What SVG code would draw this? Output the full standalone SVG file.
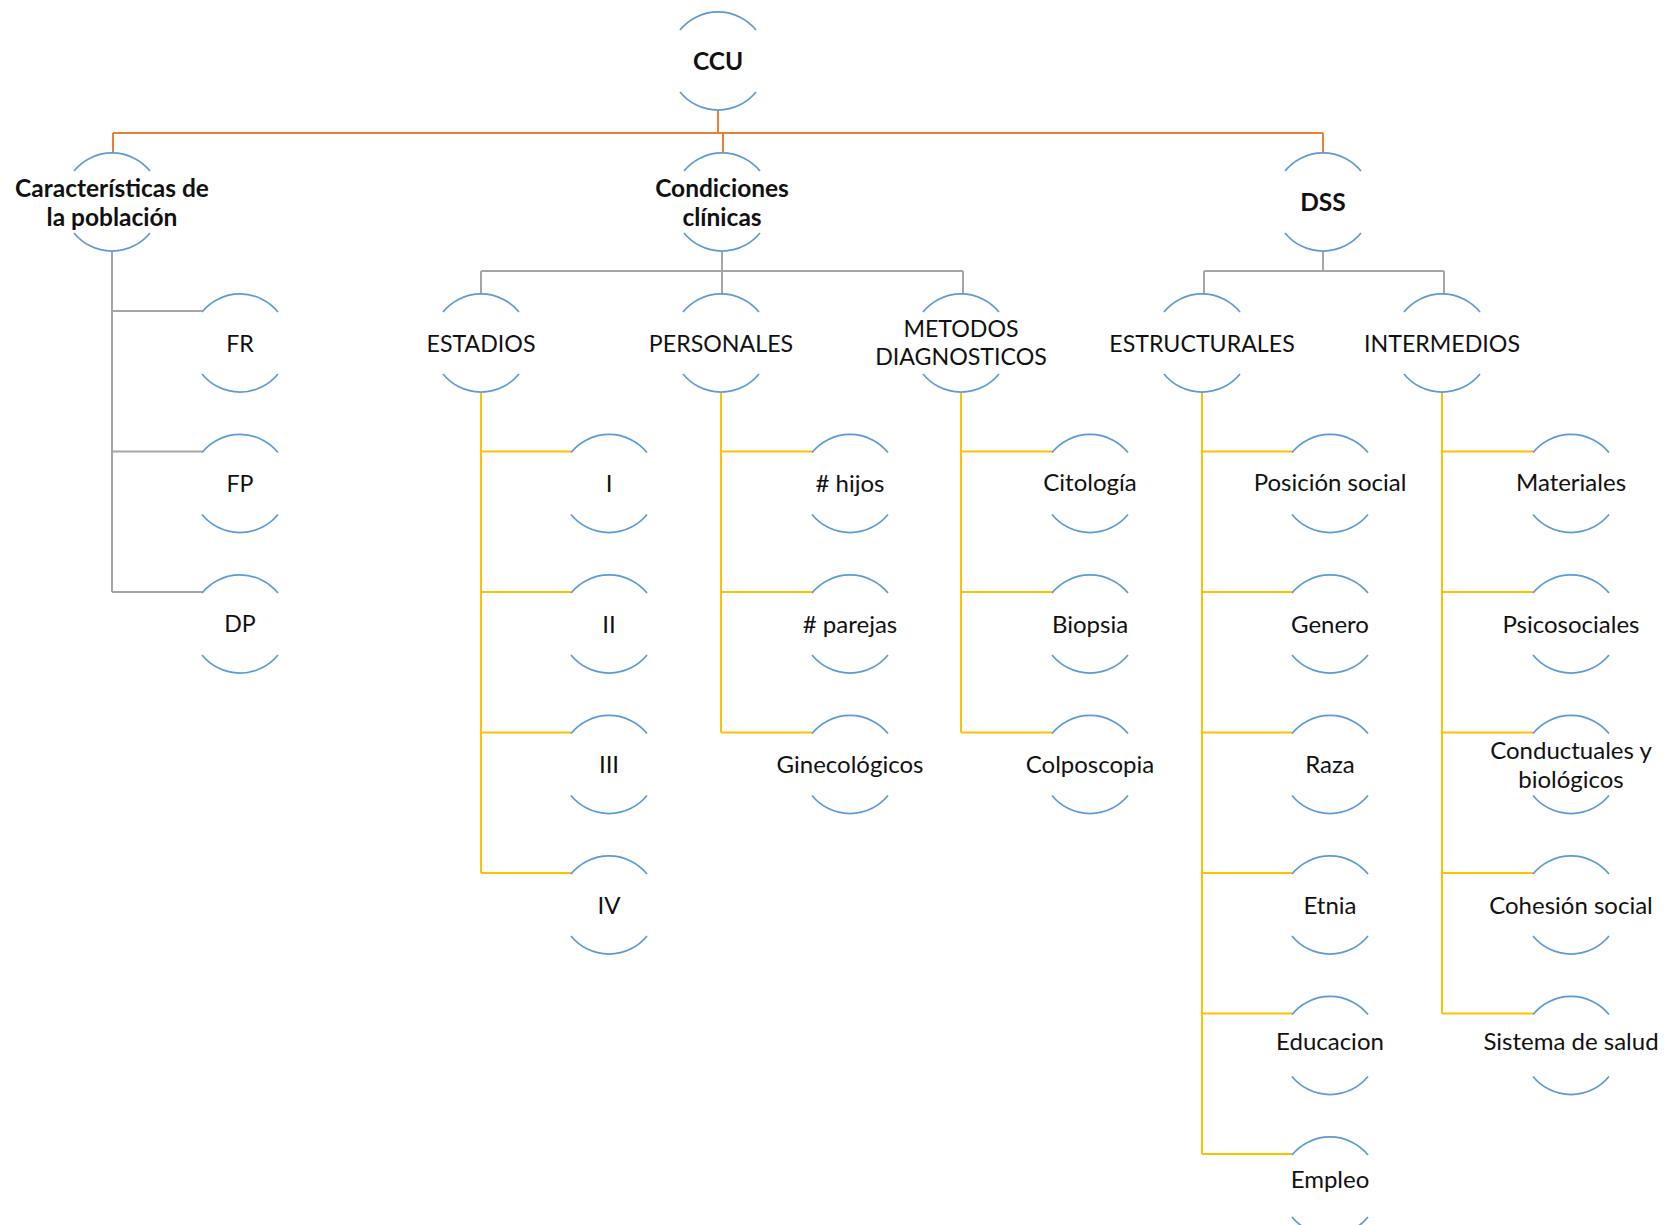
<svg xmlns="http://www.w3.org/2000/svg" xmlns:xlink="http://www.w3.org/1999/xlink" width="1675" height="1225" viewBox="0 0 1675 1225">
<style>
.t{font-family:Lato,"Liberation Sans",sans-serif;font-size:24px;fill:#111;text-anchor:middle}
.c{font-size:23.2px}
.b{font-weight:bold;font-size:24.5px}
.arc{fill:none;stroke:#5B9BD5;stroke-width:1.7}
.or{fill:none;stroke:#ED7D31;stroke-width:2}
.gr{fill:none;stroke:#A5A5A5;stroke-width:2}
.ye{fill:none;stroke:#FFC000;stroke-width:2}
</style>
<defs>
<path id="arcs" class="arc" d="M-38,-31 A49,49 0 0 1 38,-31 M-38,31 A49,49 0 0 0 38,31"/>
</defs>
<rect width="1675" height="1225" fill="#fff"/>
<g id="connectors">
<path class="or" d="M718,111V133M113,133H1323M113,133V153M723,133V153M1323,133V153"/>
<path class="gr" d="M112,251V592M112,311H202M112,451.5H202M112,592H202"/>
<path class="gr" d="M722,251V271M481,271H963M481,271V294M722,271V294M963,271V294"/>
<path class="gr" d="M1323,251V271M1204,271H1444M1204,271V294M1444,271V294"/>
<path class="ye" d="M481,392V873M481,451.5H571M481,592H571M481,732.5H571M481,873H571"/>
<path class="ye" d="M721,392V732.5M721,451.5H812M721,592H812M721,732.5H812"/>
<path class="ye" d="M961,392V732.5M961,451.5H1052M961,592H1052M961,732.5H1052"/>
<path class="ye" d="M1202,392V1154M1202,451.5H1292M1202,592H1292M1202,732.5H1292M1202,873H1292M1202,1013.5H1292M1202,1154H1292"/>
<path class="ye" d="M1442,392V1013.5M1442,451.5H1533M1442,592H1533M1442,732.5H1533M1442,873H1533M1442,1013.5H1533"/>
</g>
<g id="n-ccu"><use xlink:href="#arcs" x="718" y="61"/><text class="t b" x="718" y="70">CCU</text></g>
<g id="n-caract"><use xlink:href="#arcs" x="112" y="202"/><text class="t b" x="112" y="197">Características de</text><text class="t b" x="112" y="226">la población</text></g>
<g id="n-cond"><use xlink:href="#arcs" x="722" y="202"/><text class="t b" x="722" y="197">Condiciones</text><text class="t b" x="722" y="226">clínicas</text></g>
<g id="n-dss"><use xlink:href="#arcs" x="1323" y="202"/><text class="t b" x="1323" y="211">DSS</text></g>

<g id="n-fr"><use xlink:href="#arcs" x="240" y="343"/><text class="t c" x="240" y="352">FR</text></g>
<g id="n-fp"><use xlink:href="#arcs" x="240" y="483.5"/><text class="t c" x="240" y="492">FP</text></g>
<g id="n-dp"><use xlink:href="#arcs" x="240" y="624"/><text class="t c" x="240" y="632">DP</text></g>

<g id="n-estadios"><use xlink:href="#arcs" x="481" y="343"/><text class="t c" x="481" y="352">ESTADIOS</text></g>
<g id="n-personales"><use xlink:href="#arcs" x="721" y="343"/><text class="t c" x="721" y="352">PERSONALES</text></g>
<g id="n-metodos"><use xlink:href="#arcs" x="961" y="343"/><text class="t c" x="961" y="337">METODOS</text><text class="t c" x="961" y="365">DIAGNOSTICOS</text></g>
<g id="n-estructurales"><use xlink:href="#arcs" x="1202" y="343"/><text class="t c" x="1202" y="352">ESTRUCTURALES</text></g>
<g id="n-intermedios"><use xlink:href="#arcs" x="1442" y="343"/><text class="t c" x="1442" y="352">INTERMEDIOS</text></g>

<g id="n-i"><use xlink:href="#arcs" x="609" y="483.5"/><text class="t" x="609" y="492">I</text></g>
<g id="n-ii"><use xlink:href="#arcs" x="609" y="624"/><text class="t" x="609" y="633">II</text></g>
<g id="n-iii"><use xlink:href="#arcs" x="609" y="764.5"/><text class="t" x="609" y="773">III</text></g>
<g id="n-iv"><use xlink:href="#arcs" x="609" y="905"/><text class="t" x="609" y="914">IV</text></g>

<g id="n-hijos"><use xlink:href="#arcs" x="850" y="483.5"/><text class="t" x="850" y="492"># hijos</text></g>
<g id="n-parejas"><use xlink:href="#arcs" x="850" y="624"/><text class="t" x="850" y="633"># parejas</text></g>
<g id="n-gineco"><use xlink:href="#arcs" x="850" y="764.5"/><text class="t" x="850" y="773">Ginecológicos</text></g>

<g id="n-citologia"><use xlink:href="#arcs" x="1090" y="483.5"/><text class="t" x="1090" y="491">Citología</text></g>
<g id="n-biopsia"><use xlink:href="#arcs" x="1090" y="624"/><text class="t" x="1090" y="633">Biopsia</text></g>
<g id="n-colpo"><use xlink:href="#arcs" x="1090" y="764.5"/><text class="t" x="1090" y="773">Colposcopia</text></g>

<g id="n-posicion"><use xlink:href="#arcs" x="1330" y="483.5"/><text class="t" x="1330" y="491">Posición social</text></g>
<g id="n-genero"><use xlink:href="#arcs" x="1330" y="624"/><text class="t" x="1330" y="633">Genero</text></g>
<g id="n-raza"><use xlink:href="#arcs" x="1330" y="764.5"/><text class="t" x="1330" y="773">Raza</text></g>
<g id="n-etnia"><use xlink:href="#arcs" x="1330" y="905"/><text class="t" x="1330" y="914">Etnia</text></g>
<g id="n-educacion"><use xlink:href="#arcs" x="1330" y="1045.5"/><text class="t" x="1330" y="1050">Educacion</text></g>
<g id="n-empleo"><use xlink:href="#arcs" x="1330" y="1186"/><text class="t" x="1330" y="1188">Empleo</text></g>

<g id="n-materiales"><use xlink:href="#arcs" x="1571" y="483.5"/><text class="t" x="1571" y="491">Materiales</text></g>
<g id="n-psico"><use xlink:href="#arcs" x="1571" y="624"/><text class="t" x="1571" y="633">Psicosociales</text></g>
<g id="n-conduct"><use xlink:href="#arcs" x="1571" y="764.5"/><text class="t" x="1571" y="759">Conductuales y</text><text class="t" x="1571" y="788">biológicos</text></g>
<g id="n-cohesion"><use xlink:href="#arcs" x="1571" y="905"/><text class="t" x="1571" y="914">Cohesión social</text></g>
<g id="n-sistema"><use xlink:href="#arcs" x="1571" y="1045.5"/><text class="t" x="1571" y="1050">Sistema de salud</text></g>
</svg>
